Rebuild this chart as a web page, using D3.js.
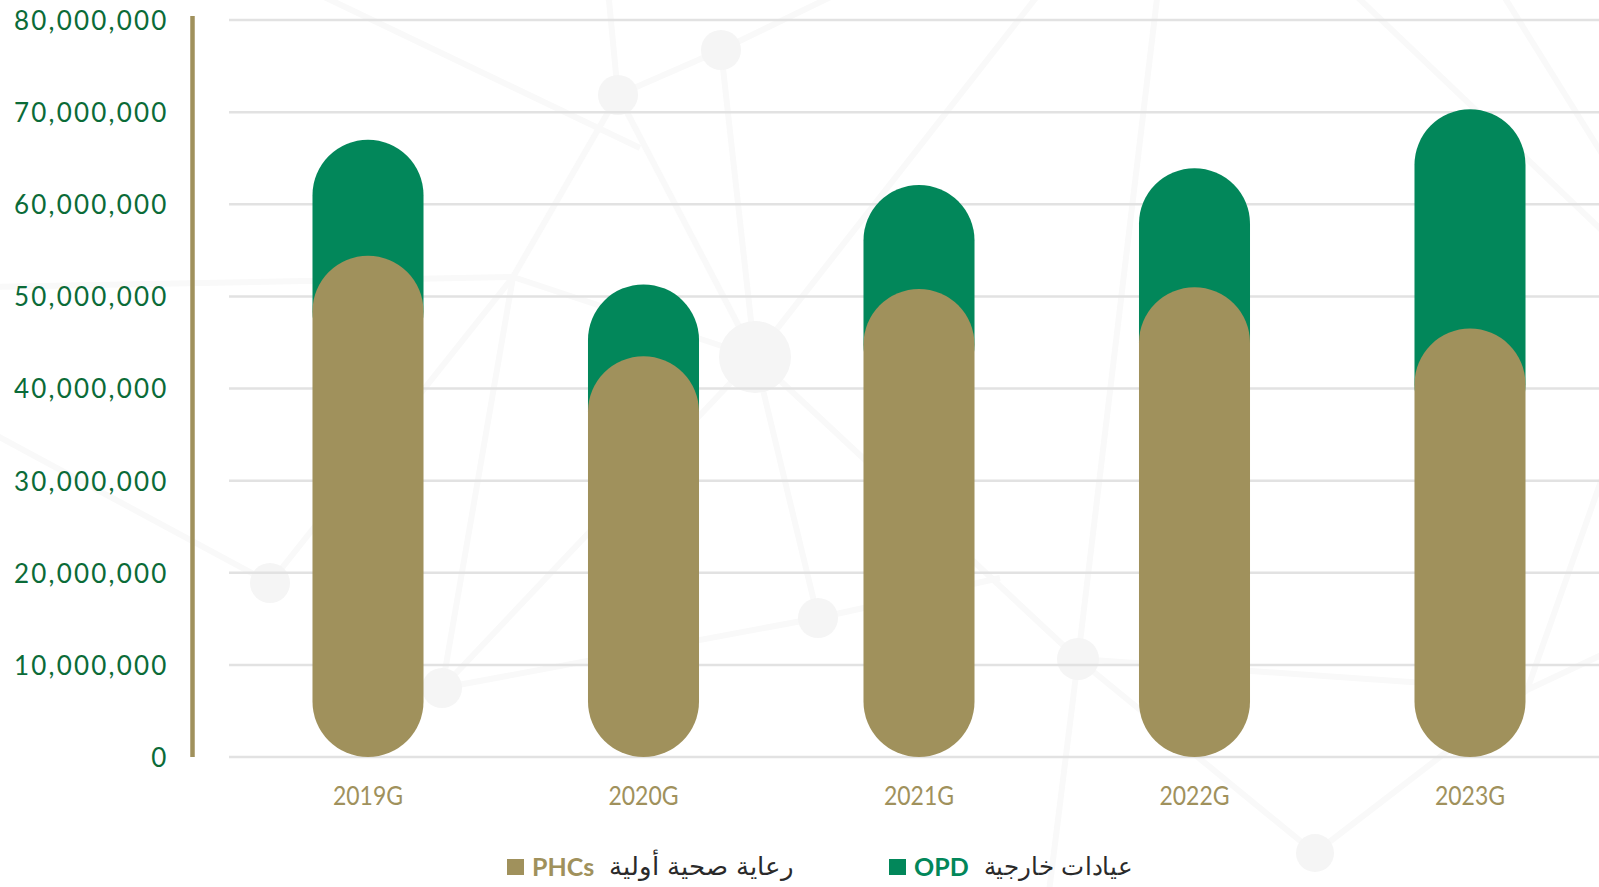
<!DOCTYPE html>
<html>
<head>
<meta charset="utf-8">
<script src="https://cdn.jsdelivr.net/npm/d3@7"></script>
<style>
  html, body { margin: 0; padding: 0; background: #ffffff; }
  svg { display: block; }
</style>
</head>
<body>
<svg id="chart" width="1599" height="887"></svg>
<script>
// ---- data -------------------------------------------------------------
const years = ["2019G", "2020G", "2021G", "2022G", "2023G"];
// Primary health care centre visits (PHCs)
const phcVisits = [54400000, 43500000, 50800000, 51000000, 46500000];
// Outpatient department visits (OPD)
const opdVisits = [12600000, 7800000, 11300000, 12900000, 23800000];
const yTickValues = [0, 10000000, 20000000, 30000000, 40000000, 50000000, 60000000, 70000000, 80000000];
const seriesKeys = ["phc", "opd"];
const seriesNames = {
  phc: { en: "PHCs", ar: "رعاية صحية أولية" },
  opd: { en: "OPD", ar: "عيادات خارجية" }
};

// ---- look -------------------------------------------------------------
const colors = { phc: "#a0915c", opd: "#02875a" };
const labelGreen = "#0b6b38";
const gridColor = "#e2e2e2";

const W = 1599, H = 887;
const svg = d3.select("#chart");

// decorative network backdrop (faint lines and nodes)
const netNodes = {
  A: [618, 95, 20], B: [721, 50, 20], C: [755, 357, 36], D: [818, 618, 20],
  E: [442, 688, 20], F: [270, 583, 20], G: [1078, 659, 21], H: [1315, 853, 19],
  I: [513, 277, 0], P: [1527, 690, 0],
  j1: [-10, 287, 0], j2: [-10, 432, 0], t1: [608, -10, 0], t2: [845, -10, 0],
  t3: [1042, -10, 0], t4: [318, -6, 0], e4: [640, 148, 0], t5: [1158, -10, 0],
  b6: [1048, 900, 0], r1a: [1350, -10, 0], r1b: [1612, 240, 0],
  r2a: [1500, -10, 0], r2b: [1612, 170, 0], r3: [1612, 450, 0], r4: [1612, 650, 0],
  d1: [1000, 578, 0]
};
const netLinks = [
  ["j1", "I"], ["I", "C"], ["A", "I"], ["F", "I"], ["E", "I"], ["j2", "F"],
  ["A", "B"], ["A", "C"], ["B", "C"], ["A", "t1"], ["B", "t2"], ["C", "t3"],
  ["t4", "e4"], ["C", "E"], ["C", "D"], ["D", "E"], ["C", "G"], ["G", "t5"],
  ["G", "b6"], ["G", "H"], ["G", "P"], ["H", "P"], ["P", "r3"], ["P", "r4"],
  ["r1a", "r1b"], ["r2a", "r2b"], ["D", "d1"]
];
const net = svg.append("g").attr("class", "backdrop");
net.selectAll("line")
  .data(netLinks)
  .join("line")
  .attr("x1", d => netNodes[d[0]][0]).attr("y1", d => netNodes[d[0]][1])
  .attr("x2", d => netNodes[d[1]][0]).attr("y2", d => netNodes[d[1]][1])
  .attr("stroke", "#f9f9f9")
  .attr("stroke-width", 6);
net.selectAll("circle")
  .data(Object.values(netNodes).filter(n => n[2] > 0))
  .join("circle")
  .attr("cx", d => d[0]).attr("cy", d => d[1]).attr("r", d => d[2])
  .attr("fill", "#f5f5f5");

// ---- scales -----------------------------------------------------------
const y = d3.scaleLinear().domain([0, 80000000]).range([757, 20]);
const x = d3.scaleBand()
  .domain(years)
  .range([230.25, 1607.75])
  .paddingInner(0.597)
  .paddingOuter(0.2985);
const bw = x.bandwidth();

// ---- gridlines --------------------------------------------------------
svg.append("g").attr("class", "grid")
  .selectAll("line")
  .data(yTickValues)
  .join("line")
  .attr("x1", 229).attr("x2", W)
  .attr("y1", d => y(d)).attr("y2", d => y(d))
  .attr("stroke", gridColor)
  .attr("stroke-width", 2.5);

// ---- y axis -----------------------------------------------------------
const yAxis = svg.append("g")
  .attr("transform", "translate(192.5,0)")
  .call(d3.axisLeft(y).tickValues(yTickValues).tickFormat(d3.format(",")).tickSize(0).tickPadding(24));
yAxis.select(".domain").remove();
yAxis.selectAll("text")
  .attr("fill", labelGreen)
  .attr("dy", "0.36em")
  .style("font-family", "Lato, 'Open Sans', sans-serif")
  .style("font-size", "26px")
  .style("letter-spacing", "2.2px");

svg.append("line")
  .attr("x1", 192.5).attr("x2", 192.5)
  .attr("y1", y(80000000) - 4).attr("y2", y(0))
  .attr("stroke", colors.phc)
  .attr("stroke-width", 4.5);

// ---- x axis -----------------------------------------------------------
const xAxis = svg.append("g")
  .attr("transform", `translate(0,${y(0)})`)
  .call(d3.axisBottom(x).tickSize(0).tickPadding(29));
xAxis.select(".domain").remove();
xAxis.selectAll("text")
  .attr("fill", colors.phc)
  .attr("textLength", 70)
  .attr("lengthAdjust", "spacingAndGlyphs")
  .style("font-family", "Lato, 'Open Sans', sans-serif")
  .style("font-size", "26.5px");

// ---- bars -------------------------------------------------------------
const rows = years.map((yr, i) => ({ year: yr, phc: phcVisits[i], opd: opdVisits[i] }));
const stacked = d3.stack().keys(seriesKeys)(rows);
const stackOf = Object.fromEntries(stacked.map(s => [s.key, s]));

// OPD capsule: sits on top of the PHC total, its lower end tucked behind the PHC capsule
svg.append("g").attr("class", "bars-opd")
  .selectAll("rect")
  .data(stackOf.opd)
  .join("rect")
  .attr("x", d => x(d.data.year))
  .attr("width", bw)
  .attr("y", d => y(d[1]))
  .attr("height", d => y(d[0]) - y(d[1]) + bw)
  .attr("rx", bw / 2).attr("ry", bw / 2)
  .attr("fill", colors.opd);

// PHC capsule: from the baseline to its value, drawn in front
svg.append("g").attr("class", "bars-phc")
  .selectAll("rect")
  .data(stackOf.phc)
  .join("rect")
  .attr("x", d => x(d.data.year))
  .attr("width", bw)
  .attr("y", d => y(d[1]))
  .attr("height", d => y(d[0]) - y(d[1]))
  .attr("rx", bw / 2).attr("ry", bw / 2)
  .attr("fill", colors.phc);

// ---- legend -----------------------------------------------------------
const legendItems = [
  { key: "phc", x: 507, arWidth: 184 },
  { key: "opd", x: 889, arWidth: 149 }
];
const legendY = 867;
const legend = svg.append("g").attr("class", "legend");
const item = legend.selectAll("g")
  .data(legendItems)
  .join("g")
  .attr("transform", d => `translate(${d.x},${legendY})`);
item.append("rect")
  .attr("x", 0).attr("y", -8).attr("width", 17).attr("height", 16)
  .attr("fill", d => colors[d.key]);
item.append("text")
  .attr("class", "en")
  .attr("x", 25).attr("y", 8.5)
  .attr("fill", d => colors[d.key])
  .style("font-family", "Lato, 'Open Sans', sans-serif")
  .style("font-weight", 700)
  .style("font-size", "25px")
  .text(d => seriesNames[d.key].en);
item.each(function (d) {
  const g = d3.select(this);
  const enW = g.select("text.en").node().getComputedTextLength();
  g.append("text")
    .attr("x", 25 + enW + 15)
    .attr("y", 8)
    .attr("direction", "ltr")
    .attr("text-anchor", "start")
    .attr("textLength", d.arWidth)
    .attr("lengthAdjust", "spacingAndGlyphs")
    .attr("fill", "#2a2a2a")
    .style("font-family", "'DejaVu Sans', 'Noto Sans', sans-serif")
    .style("font-weight", 300)
    .style("font-size", "25px")
    .text(seriesNames[d.key].ar);
});
</script>
</body>
</html>
